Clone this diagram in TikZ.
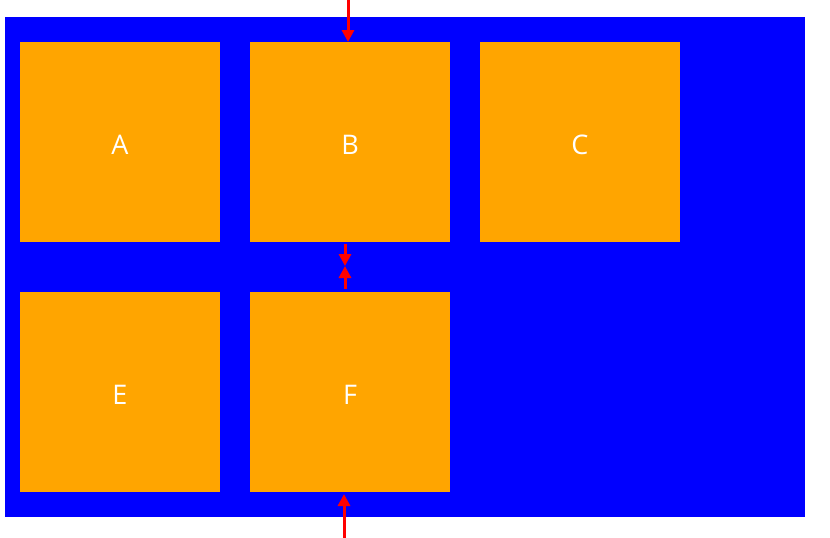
\documentclass[tikz,border=0pt]{standalone}
\usepackage{fontspec}
\setmainfont{Open Sans}
\usetikzlibrary{arrows.meta}
\definecolor{bgblue}{RGB}{0,0,255}
\definecolor{cellorange}{RGB}{255,165,0}
\definecolor{arrred}{RGB}{255,0,0}
\begin{document}
\begin{tikzpicture}[x=1pt,y=-1pt,
  cell/.style={fill=cellorange, draw=none, minimum width=200pt, minimum height=200pt, inner sep=0pt, text=white, text height=25.5pt, text depth=0pt, font=\fontsize{27}{30}\selectfont},
  conn/.style={draw=arrred, line width=3pt, -{Triangle[width=12pt,length=12pt]}}]
\useasboundingbox (0,0) rectangle (830,538);
\fill[bgblue] (5,17) rectangle (805,517);
\node[cell] (A) at (120,142) {A};
\node[cell] (B) at (350,142) {B};
\node[cell] (C) at (580,142) {C};
\node[cell] (E) at (120,392) {E};
\node[cell] (F) at (350,392) {F};
\coordinate (top) at (348,0);
\coordinate (bot) at (344,538);
\coordinate (m1) at (345,244);
\coordinate (m2) at (345,289);
\coordinate (mid) at (345,266);
\coordinate (Btop) at (348,42);
\coordinate (Fbot) at (344,494);
\draw[conn] (top) -- (Btop);
\draw[conn] (m1) -- (mid);
\draw[conn] (m2) -- (mid);
\draw[conn] (bot) -- (Fbot);
\end{tikzpicture}
\end{document}
